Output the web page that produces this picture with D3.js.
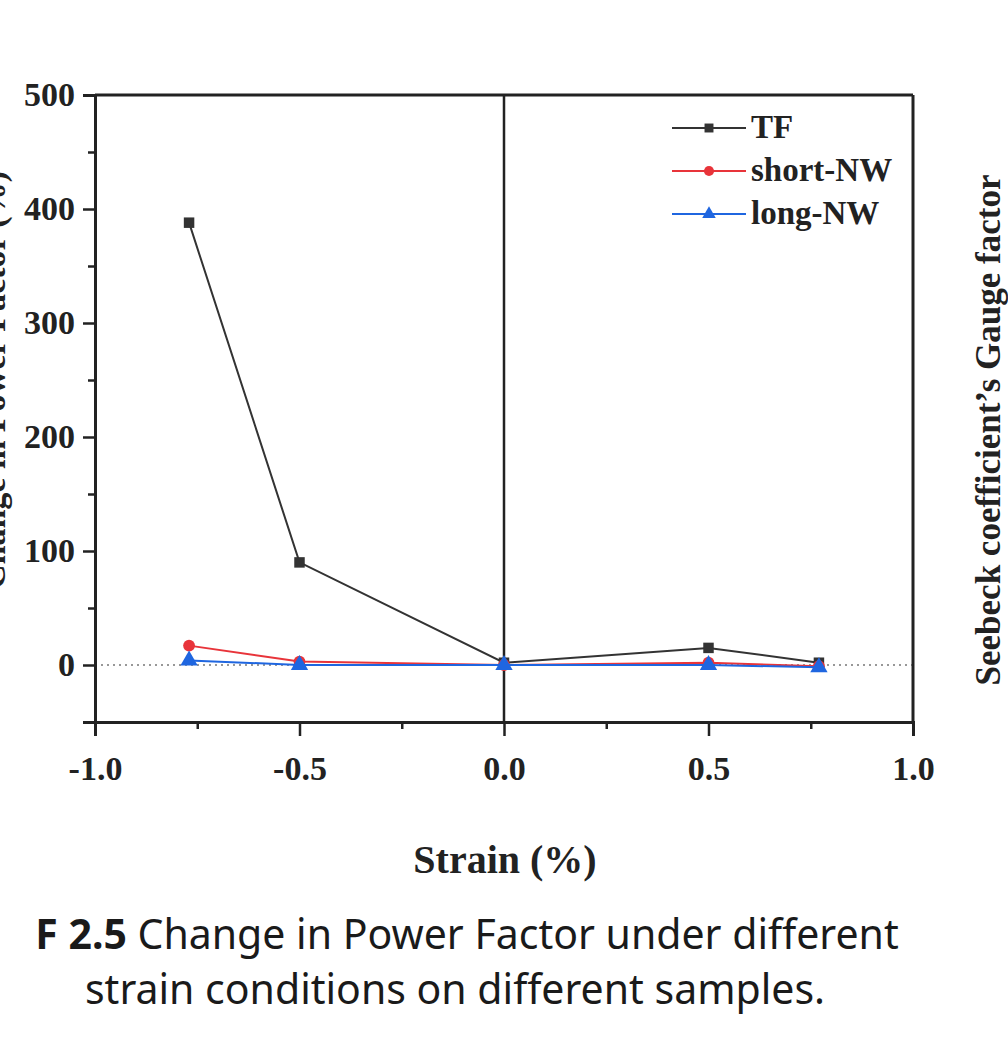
<!DOCTYPE html>
<html>
<head>
  <meta charset="utf-8">
  <script src="https://cdn.jsdelivr.net/npm/d3@7/dist/d3.min.js"></script>
  <style>
    body { margin: 0; background: #fff; }
  </style>
</head>
<body>
<div id="chart"></div>
<script>
  // strain values (%) and change in power factor (%)
  var strain = [-0.77, -0.5, 0, 0.5, 0.77];
  var tfValues = [388, 90, 2, 15, 2];
  var shortValues = [17, 3, 0, 2, -1];
  var longValues = [4, 0, 0, 0, -2];
  var seriesNames = ["TF", "short-NW", "long-NW"];
  var xTicks = [-1.0, -0.5, 0.0, 0.5, 1.0];
  var yTicks = [0, 100, 200, 300, 400, 500];

  var W = 1008, H = 1040;
  var margin = { top: 95, right: 95, bottom: 318, left: 95 };
  var width = W - margin.left - margin.right;
  var height = H - margin.top - margin.bottom;

  var svg = d3.select("#chart").append("svg")
    .attr("width", W)
    .attr("height", H);

  var g = svg.append("g")
    .attr("transform", "translate(" + margin.left + "," + margin.top + ")");

  var x = d3.scaleLinear().domain([-1, 1]).range([0, width]);
  var y = d3.scaleLinear().domain([-50, 500]).range([height, 0]);

  var serif = "'Liberation Serif', 'DejaVu Serif', serif";
  var fmt = d3.format(".1f");

  // zero reference line (dotted)
  g.append("line")
    .attr("x1", 0).attr("x2", width)
    .attr("y1", y(0)).attr("y2", y(0))
    .attr("stroke", "#777").attr("stroke-width", 1.5)
    .attr("stroke-dasharray", "2,4");

  // vertical line at zero strain
  g.append("line")
    .attr("x1", x(0)).attr("x2", x(0))
    .attr("y1", 0).attr("y2", height)
    .attr("stroke", "#222").attr("stroke-width", 2.5);

  // axes
  g.append("g")
    .attr("transform", "translate(0," + height + ")")
    .call(d3.axisBottom(x).tickValues(xTicks)
      .tickFormat(function(d) { return fmt(d).replace("\u2212", "-"); })
      .tickSize(14).tickPadding(20));
  g.append("g")
    .attr("transform", "translate(0," + height + ")")
    .call(d3.axisBottom(x).tickValues([-0.75, -0.25, 0.25, 0.75]).tickFormat("").tickSize(7));

  g.append("g")
    .call(d3.axisLeft(y).tickValues(yTicks).tickSize(12).tickPadding(8));
  g.append("g")
    .call(d3.axisLeft(y).tickValues([-50, 50, 150, 250, 350, 450]).tickFormat("").tickSize(7));

  g.selectAll(".domain").attr("stroke", "#222").attr("stroke-width", 3);
  g.selectAll(".tick line").attr("stroke", "#222").attr("stroke-width", 2.5);
  g.selectAll(".tick text")
    .attr("font-family", serif)
    .attr("font-weight", "bold")
    .attr("font-size", 34)
    .attr("fill", "#222");

  // top and right frame
  g.append("line").attr("x1", 0).attr("x2", width).attr("y1", 0).attr("y2", 0)
    .attr("stroke", "#222").attr("stroke-width", 3);
  g.append("line").attr("x1", width).attr("x2", width).attr("y1", 0).attr("y2", height)
    .attr("stroke", "#222").attr("stroke-width", 3);

  // series
  var series = [
    { name: seriesNames[0], values: tfValues, color: "#333333", marker: d3.symbolSquare, size: 110 },
    { name: seriesNames[1], values: shortValues, color: "#e8343a", marker: d3.symbolCircle, size: 110 },
    { name: seriesNames[2], values: longValues, color: "#1f66e0", marker: d3.symbolTriangle, size: 130 }
  ];

  var line = d3.line()
    .x(function(d) { return x(d[0]); })
    .y(function(d) { return y(d[1]); });

  series.forEach(function(s) {
    var pts = strain.map(function(v, i) { return [v, s.values[i]]; });
    g.append("path")
      .datum(pts)
      .attr("fill", "none")
      .attr("stroke", s.color)
      .attr("stroke-width", 2)
      .attr("d", line);
    g.selectAll(null)
      .data(pts)
      .enter().append("path")
      .attr("transform", function(d) { return "translate(" + x(d[0]) + "," + y(d[1]) + ")"; })
      .attr("d", d3.symbol().type(s.marker).size(s.size))
      .attr("fill", s.color);
  });

  // legend
  var legend = g.append("g").attr("transform", "translate(" + (672 - margin.left) + "," + (128 - margin.top) + ")");
  series.forEach(function(s, i) {
    var row = legend.append("g").attr("transform", "translate(0," + (i * 43) + ")");
    row.append("line").attr("x1", 0).attr("x2", 74).attr("y1", 0).attr("y2", 0)
      .attr("stroke", s.color).attr("stroke-width", 2);
    row.append("path").attr("transform", "translate(37,0)")
      .attr("d", d3.symbol().type(s.marker).size(80))
      .attr("fill", s.color);
    row.append("text")
      .attr("x", 79).attr("y", 10)
      .attr("font-family", serif)
      .attr("font-weight", "bold")
      .attr("font-size", 33)
      .attr("fill", "#222")
      .text(s.name);
  });

  // x axis title
  svg.append("text")
    .attr("x", 505).attr("y", 873)
    .attr("text-anchor", "middle")
    .attr("font-family", serif)
    .attr("font-weight", "bold")
    .attr("font-size", 40)
    .attr("fill", "#222")
    .text("Strain (%)");

  // y axis title (cut off at the left edge, as in the source figure)
  svg.append("text")
    .attr("transform", "translate(5,380) rotate(-90)")
    .attr("text-anchor", "middle")
    .attr("font-family", serif)
    .attr("font-weight", "bold")
    .attr("font-size", 34)
    .attr("fill", "#222")
    .text("Change in Power Factor (%)");

  // neighbouring chart's y title at the right edge
  svg.append("text")
    .attr("transform", "translate(1000,430) rotate(-90)")
    .attr("text-anchor", "middle")
    .attr("font-family", serif)
    .attr("font-weight", "bold")
    .attr("font-size", 35)
    .attr("fill", "#222")
    .text("Seebeck coefficient\u2019s Gauge factor");

  // caption
  var sans = "'Liberation Sans Narrow', 'Noto Sans', sans-serif";
  var cap1 = svg.append("text")
    .attr("x", 467).attr("y", 949)
    .attr("text-anchor", "middle")
    .attr("font-family", sans)
    .attr("font-size", 41)
    .attr("fill", "#1a1a1a");
  cap1.append("tspan").attr("font-weight", "bold").text("F 2.5");
  cap1.append("tspan").text(" Change in Power Factor under different");
  svg.append("text")
    .attr("x", 455).attr("y", 1004)
    .attr("text-anchor", "middle")
    .attr("font-family", sans)
    .attr("font-size", 41)
    .attr("fill", "#1a1a1a")
    .text("strain conditions on different samples.");
</script>
</body>
</html>
